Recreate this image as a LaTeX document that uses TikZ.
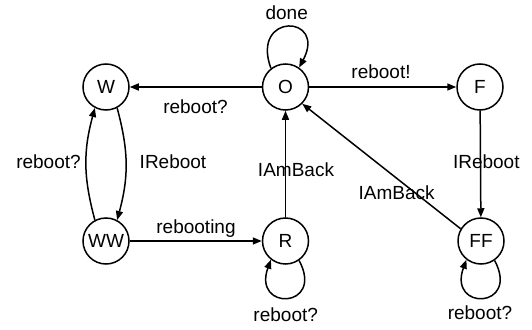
\documentclass[tikz,border=0pt]{standalone}
\usepackage{fontspec}
\setmainfont{Liberation Sans}
\usetikzlibrary{arrows.meta}
\begin{document}
\begin{tikzpicture}[x=1pt,y=1pt,
  state/.style={circle,draw,line width=1.5pt,minimum size=46pt,inner sep=0pt,
    font=\fontsize{19}{22}\selectfont},
  lbl/.style={font=\fontsize{19}{22}\selectfont,inner sep=0pt},
  edge/.style={line width=1.5pt,-{Triangle[length=9pt,width=7pt]}}]
\useasboundingbox (0,0) rectangle (532,-329);
\fill[white] (0,0) rectangle (532,-329);

% states
\node[state] (W)  at (106,-87)   {W};
\node[state] (O)  at (285.5,-87) {O};
\node[state] (F)  at (480,-87)   {F};
\node[state] (WW) at (106,-241)  {WW};
\node[state] (R)  at (285.5,-241) {R};
\node[state] (FF) at (481,-241)  {FF};

% straight transitions
\draw[edge] (O) -- (W);
\draw[edge] (O) -- (F);
\draw[edge] (F) -- (FF);
\draw[edge] (WW) -- (R);
\draw[edge] (R) -- (O);
\draw[edge] (FF.149) -- (O.-45);

% curved transitions between W and WW
\draw[edge] (WW.118) .. controls +(105:45) and +(-105:45) .. (W.-118);
\draw[edge] (W.-62) .. controls +(-75:45) and +(75:45) .. (WW.62);

% self loops
\draw[edge] (O.128) .. controls +(110:60) and +(62:60) .. (O.55);
\draw[edge] (R.-55) .. controls +(-62:55) and +(-110:55) .. (R.-128);
\draw[edge] (FF.-55) .. controls +(-62:55) and +(-110:55) .. (FF.-128);

% transition labels
\node[lbl] (lOW)   at (195.5,-107) {reboot?};
\node[lbl] (lOF)   at (381,-72)    {reboot!};
\node[lbl] (lWWR)  at (196,-229)   {rebooting};
\node[lbl] (lFFF)  at (486.3,-162) {IReboot};
\node[lbl] (lRO)   at (296,-170)   {IAmBack};
\node[lbl] (lFFO)  at (396.7,-193) {IAmBack};
\node[lbl] (lWWW)  at (48.5,-162)  {reboot?};
\node[lbl] (lWWW2) at (173,-162)   {IReboot};
\node[lbl] (lO)    at (286.7,-13)  {done};
\node[lbl] (lR)    at (285.7,-315) {reboot?};
\node[lbl] (lFF)   at (480,-313)   {reboot?};
\end{tikzpicture}
\end{document}
